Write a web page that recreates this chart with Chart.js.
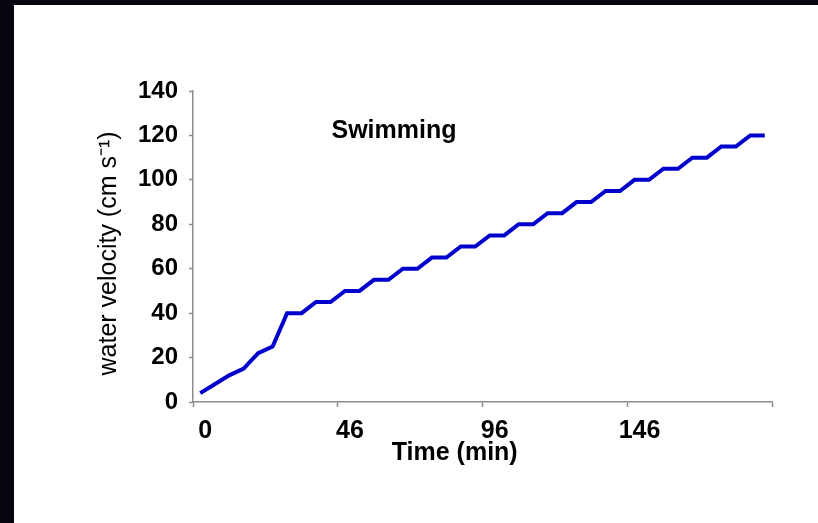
<!DOCTYPE html>
<html>
<head>
<meta charset="utf-8">
<script src="https://cdn.jsdelivr.net/npm/chart.js@4/dist/chart.umd.min.js"></script>
<style>
  body { margin: 0; background: #05050f; width: 818px; height: 523px; overflow: hidden; }
  #box { position: absolute; left: 14px; top: 5px; width: 804px; height: 518px; background: #fff; }
</style>
</head>
<body>
<div id="box"><canvas id="chart" width="804" height="518"></canvas></div>
<script>
// time stamps (min), one per category
var timeLabels = [0, 1, 6, 11, 16, 21, 26, 31, 36, 41,
                  46, 51, 56, 61, 66, 71, 76, 81, 86, 91,
                  96, 101, 106, 111, 116, 121, 126, 131, 136, 141,
                  146, 151, 156, 161, 166, 171, 176, 181, 186, 191];
// water velocity (cm s-1)
var velocity = [4, 8, 12, 15, 22, 25, 40, 40, 45, 45,
                50, 50, 55, 55, 60, 60, 65, 65, 70, 70,
                75, 75, 80, 80, 85, 85, 90, 90, 95, 95,
                100, 100, 105, 105, 110, 110, 115, 115, 120, 120];
var yTicks = [0, 20, 40, 60, 80, 100, 120, 140];

var axisGrey = '#8c8c8c';

// "Swimming" label inside the plot
var panelLabel = {
    id: 'panelLabel',
    afterDraw: function (chart) {
        var ctx = chart.ctx, area = chart.chartArea;
        ctx.save();
        ctx.font = 'bold 25px "Liberation Sans", Arial, sans-serif';
        ctx.fillStyle = '#000';
        ctx.textAlign = 'center';
        ctx.textBaseline = 'middle';
        ctx.fillText('Swimming', area.left + 201, area.top + 40);
        ctx.restore();
    }
};

var ctx = document.getElementById('chart').getContext('2d');
var myChart = new Chart(ctx, {
    type: 'line',
    data: {
        labels: timeLabels,
        datasets: [{
            label: 'Swimming',
            data: velocity,
            borderColor: '#0000cc',
            borderWidth: 4,
            pointRadius: 0,
            lineTension: 0,
            fill: false
        }]
    },
    options: {
        responsive: false,
        animation: false,
        layout: { padding: { top: 86, right: 46, bottom: 51, left: 0 } },
        plugins: { legend: { display: false }, tooltip: { enabled: false } },
        scales: {
            x: {
                type: 'category',
                offset: true,
                afterFit: function (scale) { scale.height = 70; },
                grid: {
                    offset: true,
                    drawOnChartArea: false,
                    tickLength: 5,
                    tickWidth: 1.5,
                    tickColor: function (c) {
                        if (c.index === undefined || c.index % 10 === 0) return axisGrey;
                        return 'rgba(0,0,0,0)';
                    }
                },
                border: { color: axisGrey, width: 1.5 },
                ticks: {
                    autoSkip: false,
                    maxRotation: 0,
                    padding: 9,
                    labelOffset: 5,
                    color: '#000',
                    font: { family: '"Liberation Sans", Arial, sans-serif', size: 25, weight: 'bold' },
                    callback: function (val, index) {
                        return index % 10 === 0 ? this.getLabelForValue(val) : '';
                    }
                },
                title: {
                    display: true,
                    text: 'Time (min)        ',
                    color: '#000',
                    padding: { top: 0, bottom: 4 },
                    font: { family: '"Liberation Sans", Arial, sans-serif', size: 25, weight: 'bold' }
                }
            },
            y: {
                min: 0,
                max: 140,
                afterFit: function (scale) { scale.width = 179; },
                afterBuildTicks: function (scale) {
                    scale.ticks = yTicks.map(function (v) { return { value: v }; });
                },
                grid: {
                    drawOnChartArea: false,
                    tickLength: 4,
                    tickWidth: 1.5,
                    color: axisGrey
                },
                border: { color: axisGrey, width: 1.5 },
                ticks: {
                    padding: 11,
                    color: '#000',
                    font: { family: '"Liberation Sans", Arial, sans-serif', size: 24, weight: 'bold' }
                },
                title: {
                    display: true,
                    text: 'water velocity (cm s\u207B\u00B9)  ',
                    color: '#000',
                    padding: { top: 80, bottom: 0 },
                    font: { family: '"Liberation Sans", Arial, sans-serif', size: 25, weight: 'normal' }
                }
            }
        }
    },
    plugins: [panelLabel]
});
</script>
</body>
</html>
